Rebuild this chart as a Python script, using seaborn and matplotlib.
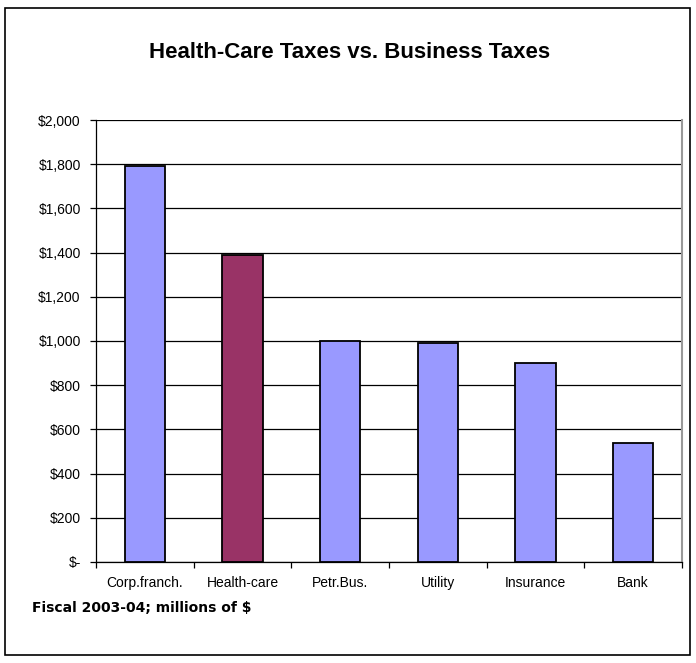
import matplotlib
matplotlib.use("Agg")
import matplotlib.pyplot as plt
import matplotlib.patches as mpatches
import seaborn as sns
import pandas as pd
from matplotlib.ticker import FixedLocator

categories = ["Corp.franch.", "Health-care", "Petr.Bus.", "Utility", "Insurance", "Bank"]
values = [1790, 1390, 1000, 990, 900, 540]
bar_colors = ["#9999FF", "#993366", "#9999FF", "#9999FF", "#9999FF", "#9999FF"]
y_ticks = [0, 200, 400, 600, 800, 1000, 1200, 1400, 1600, 1800, 2000]
y_labels = ["$-", "$200", "$400", "$600", "$800", "$1,000", "$1,200", "$1,400", "$1,600", "$1,800", "$2,000"]

df = pd.DataFrame({"cat": categories, "val": values})

sns.set_theme(style="white")
plt.rcParams['font.family'] = ['Liberation Sans', 'DejaVu Sans']
plt.rcParams['text.color'] = 'black'
plt.rcParams['xtick.color'] = 'black'
plt.rcParams['ytick.color'] = 'black'

fig = plt.figure(figsize=(6.96, 6.63), dpi=100)
fig.patch.set_facecolor("white")
fig.patches.append(mpatches.Rectangle((5/696, 1-655/663), 685/696, 647/663, transform=fig.transFigure,
                                      fill=False, edgecolor="black", linewidth=1.2))

ax = fig.add_axes([96/696, 1-562/663, 586/696, 442/663])
sns.barplot(data=df, x="cat", y="val", hue="cat", palette=bar_colors, legend=False, saturation=1,
            width=0.41, edgecolor="black", linewidth=1.3, ax=ax, zorder=3)

ax.set_ylim(0, 2000)
ax.set_xlim(-0.5, len(categories) - 0.5)
ax.set_yticks(y_ticks)
ax.set_yticklabels(y_labels, fontsize=10)
ax.yaxis.grid(True, color="black", linewidth=0.9, zorder=0)
ax.set_axisbelow(True)
ax.set_xlabel("")
ax.set_ylabel("")
ax.tick_params(axis="x", which="major", length=0, labelsize=10, pad=10)
ax.xaxis.set_minor_locator(FixedLocator([i - 0.5 for i in range(len(categories) + 1)]))
ax.tick_params(axis="x", which="minor", length=4, direction="out", width=0.9, color="black", bottom=True)
ax.tick_params(axis="y", length=4, direction="out", width=0.9, color="black", left=True, pad=7)
for s in ["left", "bottom"]:
    ax.spines[s].set_color("black")
    ax.spines[s].set_linewidth(0.9)
ax.spines["top"].set_visible(False)
ax.spines["right"].set_color("#999999")
ax.spines["right"].set_linewidth(1.5)

fig.text(350/696, 1-52/663, "Health-Care Taxes vs. Business Taxes", ha="center", va="center",
         fontsize=16, fontweight="bold", color="black")
fig.text(32/696, 1-608/663, "Fiscal 2003-04; millions of $", ha="left", va="center",
         fontsize=10, fontweight="bold", color="black", family=['DejaVu Sans'])

fig.savefig("out.png", dpi=100, facecolor="white")
